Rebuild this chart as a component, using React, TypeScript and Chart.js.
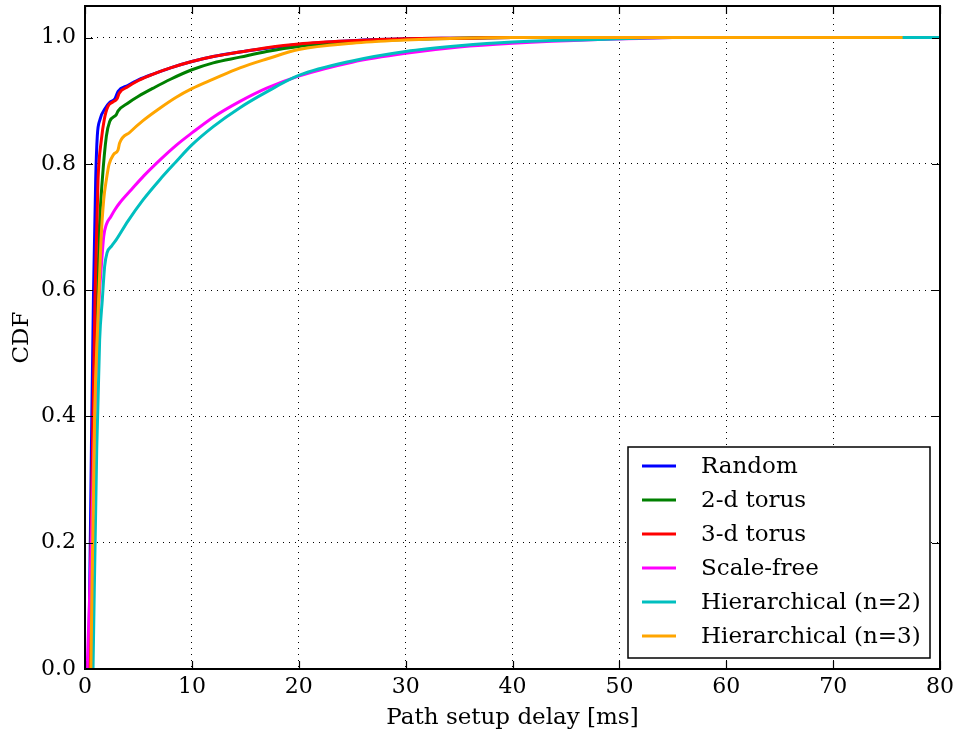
import React, { useEffect, useRef } from "react";
import { Chart, registerables } from "chart.js";

Chart.register(...registerables);

const FONT = "'DejaVu Serif', serif";

const xTicks = [0, 10, 20, 30, 40, 50, 60, 70, 80];
const yTicks = [0, 0.2, 0.4, 0.6, 0.8, 1.0];

const seriesLabels = [
  "Random",
  "2-d torus",
  "3-d torus",
  "Scale-free",
  "Hierarchical (n=2)",
  "Hierarchical (n=3)",
];
const seriesColors = ["#0000ff", "#008000", "#ff0000", "#ff00ff", "#00bfbf", "#ffa500"];

// Random
const randomX = [0.35, 0.6, 0.8, 1.0, 1.15, 1.4, 1.93, 2.3, 2.8, 3.1, 4, 5, 6.5, 8, 10, 12, 14.5, 17, 20, 25, 30, 35, 40, 50, 60];
const randomY = [0, 0.35, 0.6, 0.775, 0.844, 0.87, 0.889, 0.897, 0.903, 0.915, 0.924, 0.933, 0.943, 0.952, 0.962, 0.97, 0.977, 0.983, 0.989, 0.995, 0.998, 0.999, 1.0, 1.0, 1.0];

// 2-d torus
const torus2X = [0.45, 0.8, 1.1, 1.35, 1.62, 2.0, 2.31, 2.93, 3.1, 4, 5, 6.5, 8, 10, 12, 14.5, 17, 20, 25, 30, 35, 40, 50, 60];
const torus2Y = [0, 0.35, 0.55, 0.7, 0.775, 0.844, 0.867, 0.878, 0.884, 0.896, 0.907, 0.921, 0.934, 0.949, 0.96, 0.969, 0.978, 0.986, 0.993, 0.997, 0.999, 1.0, 1.0, 1.0];

// 3-d torus
const torus3X = [0.4, 0.7, 0.95, 1.22, 1.53, 1.8, 2.15, 2.6, 3.0, 3.2, 4, 5, 6.5, 8, 10, 12, 14.5, 17, 20, 25, 30, 35, 40, 50, 62];
const torus3Y = [0, 0.35, 0.6, 0.775, 0.838, 0.87, 0.891, 0.898, 0.903, 0.912, 0.922, 0.932, 0.943, 0.952, 0.962, 0.97, 0.977, 0.984, 0.99, 0.995, 0.998, 0.999, 1.0, 1.0, 1.0];

// Scale-free
const scaleFreeX = [0.2, 0.6, 1.0, 1.3, 1.53, 1.75, 2.0, 2.4, 2.78, 3.24, 4.33, 5.5, 7, 8.5, 10, 12, 14.5, 17, 20, 25, 30, 35, 40, 48, 55];
const scaleFreeY = [0, 0.2, 0.45, 0.58, 0.638, 0.685, 0.704, 0.716, 0.727, 0.738, 0.759, 0.781, 0.806, 0.829, 0.849, 0.874, 0.899, 0.92, 0.939, 0.961, 0.975, 0.985, 0.991, 0.997, 1.0];

// Hierarchical (n=2)
const hier2X = [0.75, 1.1, 1.37, 1.62, 1.84, 2.06, 2.5, 2.93, 4, 5.43, 7, 8.5, 10, 12, 14.5, 17, 20, 25, 30, 35, 40, 48, 55, 80];
const hier2Y = [0, 0.35, 0.521, 0.585, 0.638, 0.659, 0.67, 0.68, 0.709, 0.743, 0.775, 0.803, 0.83, 0.859, 0.889, 0.914, 0.94, 0.963, 0.978, 0.987, 0.993, 0.997, 1.0, 1.0];

// Hierarchical (n=3)
const hier3X = [0.55, 0.9, 1.2, 1.5, 1.75, 2.0, 2.25, 2.68, 3.09, 3.24, 4.2, 5.4, 7, 8.5, 10, 12, 14.5, 17, 20, 25, 30, 35, 40, 50, 60, 76.5];
const hier3Y = [0, 0.4, 0.55, 0.68, 0.743, 0.775, 0.799, 0.815, 0.822, 0.833, 0.85, 0.868, 0.888, 0.905, 0.919, 0.934, 0.952, 0.966, 0.981, 0.991, 0.996, 0.999, 1.0, 1.0, 1.0, 1.0];

const seriesX = [randomX, torus2X, torus3X, scaleFreeX, hier2X, hier3X];
const seriesY = [randomY, torus2Y, torus3Y, scaleFreeY, hier2Y, hier3Y];

const zip = (xs: number[], ys: number[]) => xs.map((x, i) => ({ x, y: ys[i] }));

const framePlugin = {
  id: "frameAndLegend",
  afterDraw(chart: any) {
    const { ctx, chartArea: a, scales } = chart;
    ctx.save();
    ctx.strokeStyle = "#000";
    ctx.lineWidth = 1.2;
    const tl = 8;
    ctx.beginPath();
    for (const v of xTicks) {
      const px = Math.round(scales.x.getPixelForValue(v)) + 0.5;
      ctx.moveTo(px, a.bottom);
      ctx.lineTo(px, a.bottom - tl);
      ctx.moveTo(px, a.top);
      ctx.lineTo(px, a.top + tl);
    }
    for (const v of yTicks) {
      const py = Math.round(scales.y.getPixelForValue(v)) + 0.5;
      ctx.moveTo(a.left, py);
      ctx.lineTo(a.left + tl, py);
      ctx.moveTo(a.right, py);
      ctx.lineTo(a.right - tl, py);
    }
    ctx.stroke();
    ctx.lineWidth = 2;
    ctx.strokeRect(a.left, a.top, a.right - a.left, a.bottom - a.top);

    // legend
    const lx = 628, ly = 447, lw = 302, lh = 211;
    ctx.fillStyle = "#fff";
    ctx.fillRect(lx, ly, lw, lh);
    ctx.lineWidth = 1.5;
    ctx.strokeStyle = "#000";
    ctx.strokeRect(lx, ly, lw, lh);
    ctx.font = `23px ${FONT}`;
    ctx.textBaseline = "middle";
    ctx.textAlign = "left";
    chart.data.datasets.forEach((ds: any, i: number) => {
      const y = 466 + i * 34;
      ctx.strokeStyle = ds.borderColor;
      ctx.lineWidth = 3;
      ctx.beginPath();
      ctx.moveTo(642, y);
      ctx.lineTo(676, y);
      ctx.stroke();
      ctx.fillStyle = "#000";
      ctx.fillText(ds.label, 701, y + 1);
    });
    ctx.restore();
  },
};

export default function App() {
  const ref = useRef<HTMLCanvasElement | null>(null);
  useEffect(() => {
    if (!ref.current) return;
    const datasets = seriesLabels.map((label, i) => ({
      label,
      data: zip(seriesX[i], seriesY[i]),
      borderColor: seriesColors[i],
      backgroundColor: seriesColors[i],
      borderWidth: 3,
      pointRadius: 0,
      showLine: true,
      fill: false,
      cubicInterpolationMode: "monotone",
      order: seriesLabels.length - i,
    }));
    const chart = new Chart(ref.current, {
      type: "scatter",
      data: { datasets },
      plugins: [framePlugin],
      options: {
        animation: false,
        responsive: false,
        devicePixelRatio: 1,
        layout: { padding: { top: 6, right: 18, left: 0, bottom: 0 } },
        plugins: { legend: { display: false }, tooltip: { enabled: false } },
        scales: {
          x: {
            type: "linear",
            min: 0,
            max: 80,
            afterBuildTicks: (s: any) => {
              s.ticks = xTicks.map((v) => ({ value: v }));
            },
            afterFit: (s: any) => {
              s.height = 64;
              s.paddingLeft = 0;
              s.paddingRight = 0;
            },
            ticks: {
              color: "#000",
              font: { family: FONT, size: 22 },
              padding: 5,
              maxRotation: 0,
              autoSkip: false,
              callback: (v: any) => String(v),
            },
            grid: {
              color: "#000",
              lineWidth: 1,
              drawTicks: false,
            },
            border: { display: false, dash: [1, 5] },
            title: {
              display: true,
              text: "Path setup delay [ms]",
              color: "#000",
              font: { family: FONT, size: 23 },
              padding: { top: 0, bottom: 1 },
            },
          },
          y: {
            type: "linear",
            min: 0,
            max: 1.05,
            afterBuildTicks: (s: any) => {
              s.ticks = yTicks.map((v) => ({ value: v }));
            },
            afterFit: (s: any) => {
              s.width = 85;
              s.paddingTop = 0;
              s.paddingBottom = 0;
            },
            ticks: {
              color: "#000",
              font: { family: FONT, size: 22 },
              padding: 9,
              autoSkip: false,
              callback: (v: any) => Number(v).toFixed(1),
            },
            grid: {
              color: "#000",
              lineWidth: 1,
              drawTicks: false,
            },
            border: { display: false, dash: [1, 5] },
            title: {
              display: true,
              text: "CDF",
              color: "#000",
              font: { family: FONT, size: 23 },
              padding: { top: 8, bottom: 0 },
            },
          },
        },
      } as any,
    });
    return () => chart.destroy();
  }, []);
  return (
    <div style={{ position: "fixed", left: 0, top: 0, width: 958, height: 733, background: "#fff" }}>
      <canvas ref={ref} width={958} height={733} style={{ display: "block" }} />
    </div>
  );
}
